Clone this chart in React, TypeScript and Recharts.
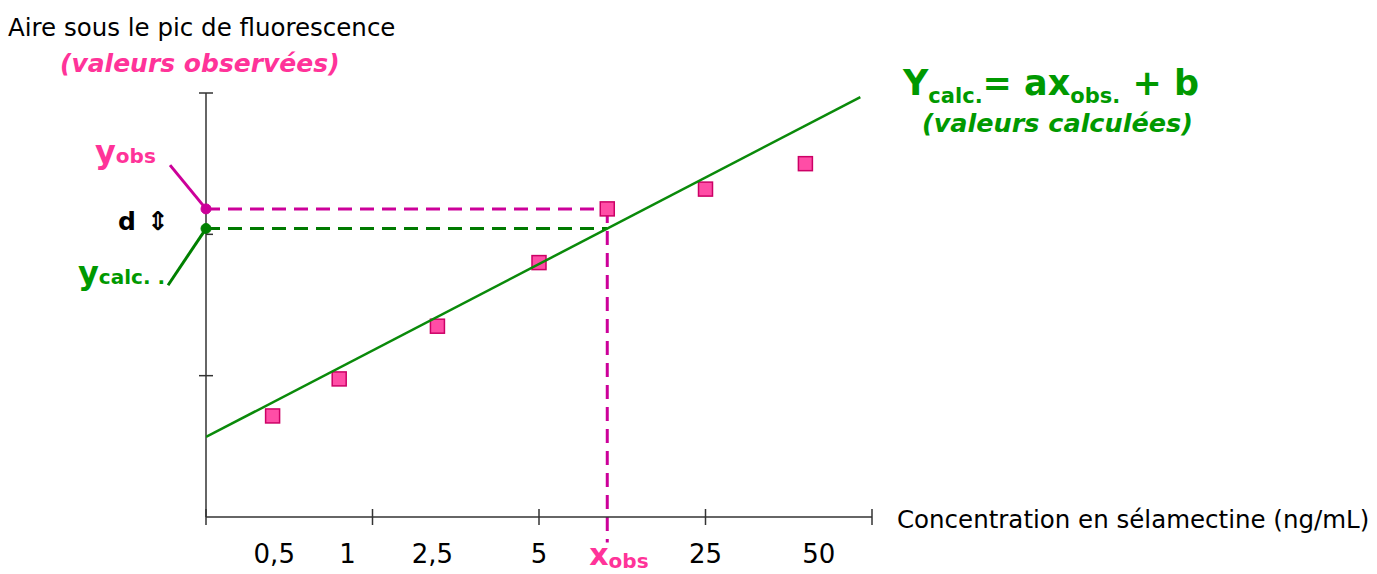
import { ComposedChart, Scatter, XAxis, YAxis, ReferenceLine, ReferenceDot, Customized } from "recharts";

// observed points (x in axis units, y in axis units)
const obsX = [0.4, 0.8, 1.39, 2.0, 2.41, 3.0, 3.6];
const obsY = [0.715, 0.977, 1.35, 1.8, 2.18, 2.32, 2.5];

// fitted line Ycalc = a*x + b
const fitX = [0, 3.93];
const fitA = 0.612;
const fitB = 0.566;

// highlighted observation
const xObs = 2.41;
const yObs = 2.18;

// axis ticks
const xMajorTicks = [0, 1, 2, 3, 4];
const yTicks = [1, 2, 3];
const concLabels = ["0,5", "1", "2,5", "5", "25", "50"];
const concLabelPos = [0.41, 0.85, 1.36, 2, 3, 3.68];

const points = obsX.map((x, i) => ({ x, y: obsY[i] }));
const fitLine = fitX.map((x) => ({ x, y: fitA * x + fitB }));
const yCalc = fitA * xObs + fitB;

const allXTicks = Array.from(new Set([...xMajorTicks, ...concLabelPos, xObs])).sort((a, b) => a - b);

const FONT = "DejaVu Sans, Verdana, sans-serif";
const GREEN = "#009900";
const PINK = "#ff3399";
const MAGENTA = "#cc0099";
const AXIS = "#333";

const XTick = (props: any) => {
  const { x, y, payload } = props;
  const v = payload.value;
  const li = concLabelPos.indexOf(v);
  return (
    <g>
      {xMajorTicks.includes(v) && <line x1={x} x2={x} y1={y - 8} y2={y + 8} stroke={AXIS} strokeWidth={1.5} />}
      {li >= 0 && (
        <text x={x} y={y + 46} textAnchor="middle" fontFamily={FONT} fontSize={26} fill="#000">
          {concLabels[li]}
        </text>
      )}
      {v === xObs && (
        <text x={x - 18} y={y + 48} fontFamily={FONT} fontWeight="bold" fill={PINK}>
          <tspan fontSize={30}>x</tspan>
          <tspan fontSize={20} dy={3}>obs</tspan>
        </text>
      )}
    </g>
  );
};

const YTick = (props: any) => {
  const { x, y, payload } = props;
  const both = payload.value !== 2;
  return <line x1={both ? x - 7 : x} x2={x + 7} y1={y} y2={y} stroke={AXIS} strokeWidth={1.5} />;
};

const Square = (props: any) => {
  const { cx, cy } = props;
  return <rect x={cx - 7} y={cy - 7} width={14} height={14} fill="#ff4da6" stroke="#cc0066" strokeWidth={1.5} />;
};

const Annotations = () => (
  <g fontFamily={FONT}>
    <text x={8} y={36} fontSize={24.5} fill="#000">Aire sous le pic de fluorescence</text>
    <text x={60} y={72} fontSize={25} fontWeight="bold" fontStyle="italic" fill={PINK}>(valeurs observées)</text>

    <text x={903} y={95} fontWeight="bold" fill={GREEN}>
      <tspan fontSize={35}>Y</tspan>
      <tspan fontSize={21} dy={8}>calc.</tspan>
      <tspan fontSize={35} dy={-8}>= ax</tspan>
      <tspan fontSize={21} dy={8}>obs.</tspan>
      <tspan fontSize={35} dy={-8}> + b</tspan>
    </text>
    <text x={922} y={132} fontSize={25.5} fontWeight="bold" fontStyle="italic" fill={GREEN}>(valeurs calculées)</text>

    <text x={95} y={163} fontWeight="bold" fill={PINK}>
      <tspan fontSize={32}>y</tspan>
      <tspan fontSize={20}>obs</tspan>
    </text>
    <text x={118} y={230} fontSize={25} fontWeight="bold" fill="#000">d</text>
    <text x={158} y={230} fontSize={26} fontWeight="bold" fill="#000" textAnchor="middle">⇕</text>
    <text x={78} y={284} fontWeight="bold" fill={GREEN}>
      <tspan fontSize={32}>y</tspan>
      <tspan fontSize={20}>calc. .</tspan>
    </text>

    <text x={897} y={528} fontSize={24.5} fill="#000">Concentration en sélamectine (ng/mL)</text>
  </g>
);

export default function App() {
  return (
    <div style={{ position: "absolute", left: 0, top: 0, background: "#fff" }}>
      <ComposedChart width={1377} height={574} margin={{ top: 93, right: 505, bottom: 27, left: 196 }}>
        <XAxis
          type="number"
          dataKey="x"
          domain={[0, 4]}
          ticks={allXTicks}
          interval={0}
          allowDataOverflow
          height={30}
          tickSize={0}
          tickMargin={0}
          tickLine={false}
          axisLine={{ stroke: AXIS, strokeWidth: 1.5 }}
          tick={<XTick />}
        />
        <YAxis
          type="number"
          dataKey="y"
          domain={[0, 3]}
          ticks={yTicks}
          interval={0}
          allowDataOverflow
          width={10}
          tickSize={0}
          tickMargin={0}
          tickLine={false}
          axisLine={{ stroke: AXIS, strokeWidth: 1.5 }}
          tick={<YTick />}
        />

        <ReferenceLine segment={[{ x: 0, y: yObs }, { x: xObs, y: yObs }]} stroke={MAGENTA} strokeWidth={3} strokeDasharray="14 8" ifOverflow="visible" />
        <ReferenceLine segment={[{ x: xObs, y: yObs }, { x: xObs, y: -0.18 }]} stroke={MAGENTA} strokeWidth={3} strokeDasharray="14 8" ifOverflow="visible" />
        <ReferenceLine segment={[{ x: 0, y: yCalc }, { x: xObs, y: yCalc }]} stroke="#007a00" strokeWidth={3} strokeDasharray="14 8" ifOverflow="visible" />

        <ReferenceLine segment={[{ x: -0.216, y: 2.49 }, { x: 0, y: yObs }]} stroke={MAGENTA} strokeWidth={3} ifOverflow="visible" />
        <ReferenceLine segment={[{ x: -0.228, y: 1.64 }, { x: 0, y: yCalc }]} stroke="#008000" strokeWidth={3} ifOverflow="visible" />

        <Scatter data={points} shape={<Square />} isAnimationActive={false} />
        <Scatter
          data={fitLine}
          line={{ stroke: "#0a8a0a", strokeWidth: 2.5 }}
          shape={() => <g />}
          isAnimationActive={false}
        />

        <ReferenceDot x={0} y={yObs} r={5} fill={MAGENTA} stroke={MAGENTA} ifOverflow="visible" />
        <ReferenceDot x={0} y={yCalc} r={5} fill="#008000" stroke="#008000" ifOverflow="visible" />

        <Customized component={Annotations} />
      </ComposedChart>
    </div>
  );
}
